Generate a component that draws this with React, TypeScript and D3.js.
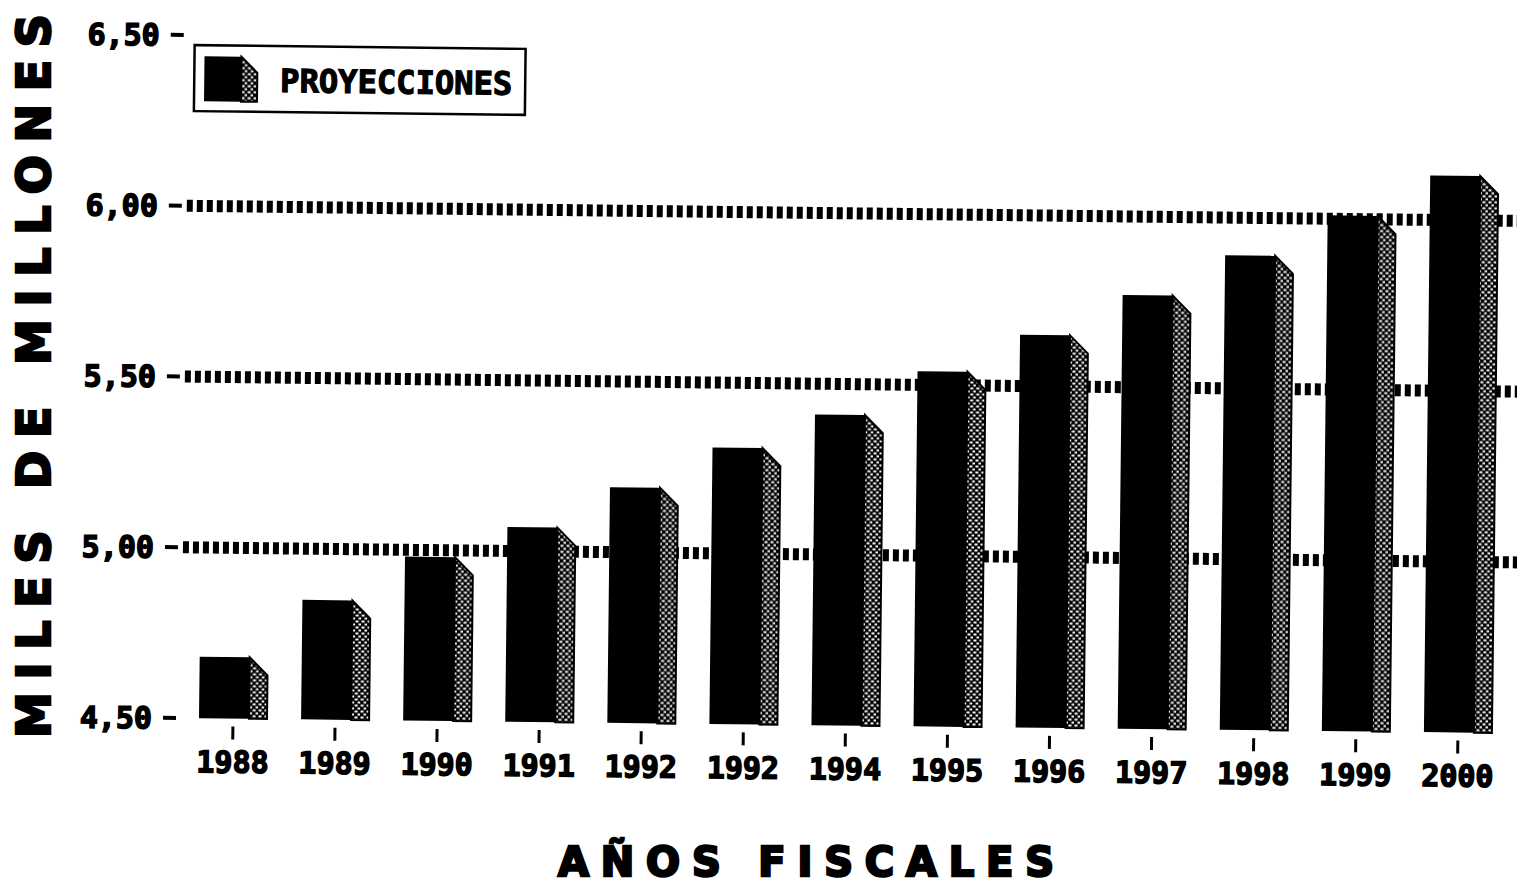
import * as d3 from "d3";

const years = ["1988", "1989", "1990", "1991", "1992", "1992", "1994", "1995", "1996", "1997", "1998", "1999", "2000"];
const values = [4.68, 4.85, 4.98, 5.07, 5.19, 5.31, 5.41, 5.54, 5.65, 5.77, 5.89, 6.01, 6.13];
const yTicks = [4.5, 5.0, 5.5, 6.0, 6.5];
const gridValues = [5.0, 5.5, 6.0];
const legendLabel = "PROYECCIONES";
const yTitle = "MILES DE MILLONES";
const xTitle = "AÑOS FISCALES";

const App = () => {
  const width = 1517;
  const height = 885;
  const mono = "'DejaVu Sans Mono', monospace";
  const sans = "'DejaVu Sans', sans-serif";

  const y = d3.scaleLinear([4.5, 6.5], [718, 35]);
  const x = d3.scalePoint<number>(d3.range(years.length), [233, 1458]);
  const front = 50;
  const side = 18;
  const fmt = (v: number) => v.toFixed(2).replace(".", ",");

  const sidePath = (left: number, top: number, bottom: number) =>
    `M${left},${top}L${left + side},${top + side}L${left + side},${bottom}L${left},${bottom}Z`;

  return (
    <svg width={width} height={height} style={{ display: "block", position: "absolute", left: 0, top: 0, background: "#fff" }}>
      <defs>
        <pattern id="dots" width={6} height={6} patternUnits="userSpaceOnUse">
          <rect width={6} height={6} fill="#000" />
          <rect x={0.5} y={0.5} width={3} height={2} fill="#fff" />
          <rect x={3.5} y={3.5} width={3} height={2} fill="#fff" />
        </pattern>
      </defs>
      <rect width={width} height={height} fill="#fff" />

      <g transform="rotate(0.65, 180, 718)">
        {gridValues.map((v) => (
          <line key={v} x1={181} x2={1530} y1={y(v)} y2={y(v)} stroke="#000" strokeWidth={12} strokeDasharray="6 4" />
        ))}
        {yTicks.map((v) => (
          <g key={v}>
            <text
              x={152}
              y={y(v)}
              dy="0.36em"
              textAnchor="end"
              fontFamily={mono}
              fontWeight="bold"
              fontSize={30}
              stroke="#000"
              strokeWidth={1.5}
            >
              {fmt(v)}
            </text>
            <line x1={163} x2={176} y1={y(v)} y2={y(v)} stroke="#000" strokeWidth={4} />
          </g>
        ))}

        {values.map((v, i) => {
          const cx = x(i)!;
          const left = cx - 34;
          const top = y(v);
          const bottom = y(4.5);
          return (
            <g key={i}>
              <rect x={left} y={top} width={front} height={bottom - top} fill="#000" />
              <path d={sidePath(left + front, top, bottom)} fill="url(#dots)" stroke="#000" strokeWidth={2} />
              <line x1={cx} x2={cx} y1={726} y2={739} stroke="#000" strokeWidth={3} />
              <text
                x={cx}
                y={772}
                textAnchor="middle"
                fontFamily={mono}
                fontWeight="bold"
                fontSize={30}
                stroke="#000"
                strokeWidth={1.5}
              >
                {years[i]}
              </text>
            </g>
          );
        })}

        <rect x={187} y={45} width={331} height={66} fill="#fff" stroke="#000" strokeWidth={2.5} />
        <rect x={197} y={56} width={37} height={45} fill="#000" />
        <path d={`M234,56L250,72L250,101L234,101Z`} fill="url(#dots)" stroke="#000" strokeWidth={2} />
        <text x={273} y={91} fontFamily={mono} fontWeight="bold" fontSize={32} stroke="#000" strokeWidth={1.2} textLength={232} lengthAdjust="spacingAndGlyphs">
          {legendLabel}
        </text>
      </g>

      <text
        transform="translate(50, 376) rotate(-90)"
        textAnchor="middle"
        fontFamily={sans}
        fontWeight="bold"
        fontSize={46}
        stroke="#000"
        strokeWidth={2.5}
        textLength={724}
        lengthAdjust="spacing"
      >
        {yTitle}
      </text>
      <text
        x={806}
        y={876}
        textAnchor="middle"
        fontFamily={sans}
        fontWeight="bold"
        fontSize={40}
        stroke="#000"
        strokeWidth={2.5}
        textLength={496}
        lengthAdjust="spacing"
      >
        {xTitle}
      </text>
    </svg>
  );
};

export default App;
